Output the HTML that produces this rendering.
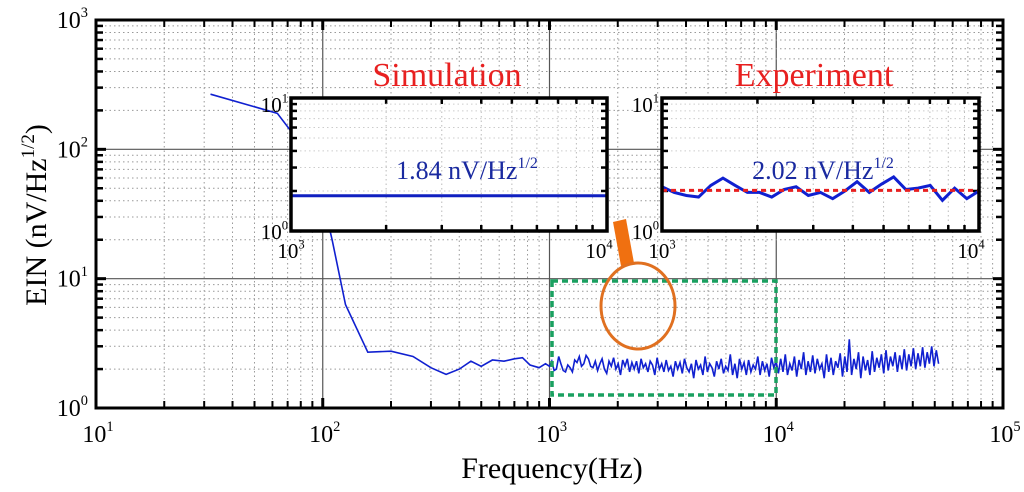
<!DOCTYPE html>
<html><head><meta charset="utf-8">
<style>
body{margin:0;background:#fff;}
svg{display:block;}
svg text{font-family:"Liberation Serif",serif;}
</style></head>
<body>
<svg id="chart" width="1024" height="492" viewBox="0 0 1024 492" xmlns="http://www.w3.org/2000/svg" font-family="Liberation Serif, serif">
<g id="grid"></g>
<g id="series"></g>
<rect x="552" y="281" width="224" height="114" fill="none" stroke="#1aa060" stroke-width="3.5" stroke-dasharray="6,4"/>
<g id="frame"></g>
<g id="insetSim"></g>
<g id="insetExp"></g>
<polygon points="613,222 626,219 634,263 621,266" fill="#f07010"/>
<ellipse cx="638" cy="306" rx="37" ry="43" fill="none" stroke="#e07020" stroke-width="3"/>
<text x="447" y="86" fill="#e82020" font-size="34" text-anchor="middle" font-family="Liberation Serif, serif">Simulation</text>
<text x="814" y="86" fill="#e82020" font-size="34" text-anchor="middle" font-family="Liberation Serif, serif">Experiment</text>
<text x="552" y="478" font-size="30" text-anchor="middle" font-family="Liberation Serif, serif">Frequency(Hz)</text>
<text transform="translate(46,215) rotate(-90)" font-size="30" text-anchor="middle" font-family="Liberation Serif, serif">EIN (nV/Hz<tspan font-size="19" dy="-12">1/2</tspan><tspan dy="12">)</tspan></text>
<g id="labels"></g>
</svg>
<script>
const xTickExps=[1,2,3,4,5];
const yTickExps=[0,1,2,3];
const lowFreq=[32,63,80,95,110,126,158,200,250,300,350,400,450,500,560,630,700,760,820,900,960,1000];
const lowVal=[267,190,110,60,20,6.3,2.7,2.75,2.5,2.05,1.82,2.0,2.3,2.1,2.35,2.3,2.4,2.45,2.15,2.05,2.2,2.1];
const noiseStart=1000, noiseEnd=52000;
const noiseVal=[2.3,1.95,2.0,2.5,2.2,1.95,1.9,2.15,2.05,1.9,2.35,2.25,2.5,2.1,2.2,2.55,2.4,2.1,2.05,2.3,1.95,2.2,2.4,2.0,1.85,2.3,2.1,2.45,2.0,2.2,1.8,2.35,2.1,2.4,1.9,2.25,2.0,2.3,1.85,2.4,2.05,2.2,1.9,2.3,2.15,1.8,2.45,2.0,2.2,1.9,2.35,1.95,2.1,1.75,2.3,2.0,2.25,1.85,2.4,2.05,1.9,2.2,1.7,2.35,2.0,2.15,1.8,2.5,1.9,2.2,2.05,1.75,2.3,2.0,2.4,1.85,2.1,1.95,2.6,1.8,2.2,1.7,2.4,2.0,2.25,1.8,2.35,1.9,2.15,2.0,2.5,1.8,2.3,1.95,2.2,1.75,2.45,2.05,2.3,1.85,2.4,1.9,2.6,1.8,2.2,1.95,2.5,1.75,2.35,2.0,2.7,1.8,2.3,1.9,2.55,1.85,2.4,2.0,2.2,1.7,2.6,1.9,2.45,1.8,2.3,2.05,2.65,1.75,2.5,1.9,3.4,1.8,2.4,2.0,2.7,1.7,2.5,1.95,2.35,1.8,2.75,1.9,2.45,2.05,2.6,1.85,2.8,1.95,2.5,2.1,2.7,1.9,2.55,2.0,2.85,1.95,2.6,2.1,2.9,2.0,2.65,2.1,2.95,2.05,2.7,2.2,3.0,2.1,2.8,2.2];
const expVal=[2.15,1.95,1.85,1.8,2.2,2.5,2.2,1.95,1.95,1.8,2.05,2.15,1.85,1.95,1.75,2.0,2.35,1.95,2.25,2.55,2.05,2.1,2.2,1.7,2.1,1.75,2.0];
const simVal=[1.84,1.84];
const expMean=2.02;

const NS="http://www.w3.org/2000/svg";
const L=96,R=1003,T=20,B=408;
const xs=f=>L+(Math.log10(f)-1)/4*(R-L);
const ys=v=>B-Math.log10(v)/3*(B-T);
function el(tag,attrs,parent){const e=document.createElementNS(NS,tag);for(const k in attrs)e.setAttribute(k,attrs[k]);parent.appendChild(e);return e;}
const grid=document.getElementById('grid'),frame=document.getElementById('frame'),labels=document.getElementById('labels');
for(let d=1;d<5;d++)for(let m=1;m<10;m++){const f=m*Math.pow(10,d);const x=xs(f);
  const ln=el('line',{x1:x,x2:x,y1:T,y2:B,stroke:m==1?'#555':'#999','stroke-width':m==1?1.2:1,'stroke-dasharray':m==1?'':'1.5,3'},grid);
  
  
  const tk=el('line',{x1:x,x2:x,y1:B,y2:B-(m==1?10:7),stroke:'#000','stroke-width':m==1?3:2},frame);
  
  
  const tk2=el('line',{x1:x,x2:x,y1:T,y2:T+(m==1?10:7),stroke:'#000','stroke-width':m==1?3:2},frame);
  
  }
for(let d=0;d<3;d++)for(let m=1;m<10;m++){const v=m*Math.pow(10,d);const y=ys(v);
  const ln=el('line',{x1:L,x2:R,y1:y,y2:y,stroke:m==1?'#555':'#999','stroke-width':m==1?1.2:1,'stroke-dasharray':m==1?'':'1.5,3'},grid);
  
  
  const tk=el('line',{x1:L,x2:L+(m==1?10:7),y1:y,y2:y,stroke:'#000','stroke-width':m==1?3:2.5},frame);
  
  
  const tk2=el('line',{x1:R,x2:R-(m==1?10:7),y1:y,y2:y,stroke:'#000','stroke-width':m==1?3:2.5},frame);
  
  }
const fr=el('rect',{x:L,y:T,width:R-L,height:B-T,fill:'none',stroke:'#000','stroke-width':3},frame);


function powLabel(parent,x,y,exp,size,anchor,name){const t=el('text',{x:x,y:y,'font-size':size,'text-anchor':anchor,'font-family':'Liberation Serif, serif'},parent);
  
  
  t.innerHTML='10<tspan font-size="'+(size*0.6)+'" dy="'+(-size*0.45)+'">'+exp+'</tspan>';}
xTickExps.forEach(e=>powLabel(labels,xs(Math.pow(10,e))+2,442,e,24,'middle','x-tick-label'));
yTickExps.forEach(e=>powLabel(labels,88,ys(Math.pow(10,e))+8,e,24,'end','y-tick-label'));
const pts=[];
lowFreq.forEach((f,i)=>pts.push([xs(f),ys(lowVal[i])]));
const n=noiseVal.length,lr=Math.log10(noiseEnd/noiseStart);
noiseVal.forEach((v,i)=>{const f=noiseStart*Math.pow(10,lr*(i+1)/n);pts.push([xs(f),ys(v)]);});
const sp=el('polyline',{points:pts.map(p=>p[0].toFixed(1)+','+p[1].toFixed(1)).join(' '),fill:'none',stroke:'#1020d0','stroke-width':1.6},document.getElementById('series'));


function inset(g,x0,x1,y0,y1,drawFn,label,lx){
  const ix=f=>x0+Math.log10(f/1000)*(x1-x0), iy=v=>y1-Math.log10(v)*(y1-y0);
  const bg=el('rect',{x:x0,y:y0,width:x1-x0,height:y1-y0,fill:'#fff'},g);
  
  
  for(let m=2;m<10;m++){const x=ix(m*1000),y=iy(m);
    const a=el('line',{x1:x,x2:x,y1:y0,y2:y1,stroke:'#bbb','stroke-dasharray':'1.5,3'},g);
    
    
    const b=el('line',{x1:x0,x2:x1,y1:y,y2:y,stroke:'#ccc','stroke-dasharray':'1.5,3'},g);
    
    
    [[x,y1,x,y1-6],[x,y0,x,y0+6],[x0,y,x0+6,y],[x1,y,x1-6,y]].forEach(c=>{const t=el('line',{x1:c[0],y1:c[1],x2:c[2],y2:c[3],stroke:'#000','stroke-width':2.5},g);
      
      });}
  drawFn(g,ix,iy);
  const f=el('rect',{x:x0,y:y0,width:x1-x0,height:y1-y0,fill:'none',stroke:'#000','stroke-width':3.5},g);
  
  
  powLabel(g,x0,258,3,21,'middle','inset-x-label');
  powLabel(g,x1-8,258,4,21,'middle','inset-x-label');
  powLabel(g,x0-3,y0+14,1,21,'end','inset-y-label');
  powLabel(g,x0-3,y1+8,0,21,'end','inset-y-label');
  const t=el('text',{x:lx,y:y0+81,'font-size':26,fill:'#1a2aa0','text-anchor':'middle','font-family':'Liberation Serif, serif'},g);
  
  
  t.innerHTML=label+' nV/Hz<tspan font-size="16" dy="-11">1/2</tspan>';
}
inset(document.getElementById('insetSim'),291,607,98,231,(g,ix,iy)=>{
  const p=el('polyline',{points:simVal.map((v,i)=>ix(1000*Math.pow(10,i/(simVal.length-1)))+','+iy(v)).join(' '),fill:'none',stroke:'#1020c0','stroke-width':3},g);
  
  
},'1.84',467);
inset(document.getElementById('insetExp'),662,979,98,231,(g,ix,iy)=>{
  const p=el('polyline',{points:expVal.map((v,i)=>ix(1000*Math.pow(10,i/(expVal.length-1)))+','+iy(v)).join(' '),fill:'none',stroke:'#1020d0','stroke-width':3},g);
  
  
  const m=el('line',{x1:662,x2:979,y1:iy(expMean),y2:iy(expMean),stroke:'#e82020','stroke-width':3,'stroke-dasharray':'5,4'},g);
  
  
},'2.02',823);
</script>
</body></html>
